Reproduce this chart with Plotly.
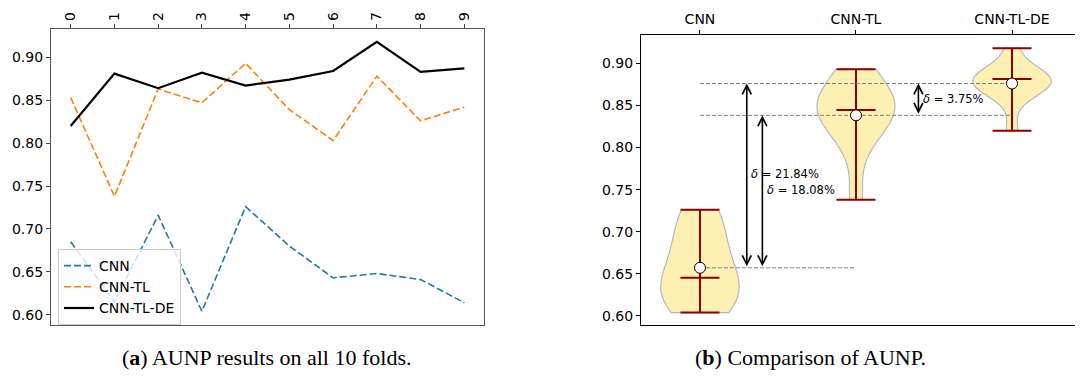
import numpy as np
import plotly.graph_objects as go

folds = list(range(10))
cnn = [0.685, 0.615, 0.716, 0.604, 0.726, 0.680, 0.643, 0.648, 0.641, 0.614]
cnn_tl = [0.853, 0.738, 0.863, 0.847, 0.893, 0.839, 0.803, 0.878, 0.826, 0.842]
cnn_tl_de = [0.820, 0.881, 0.864, 0.882, 0.867, 0.874, 0.884, 0.918, 0.883, 0.887]
models = ["CNN", "CNN-TL", "CNN-TL-DE"]
delta_labels = ["δ = 21.84%", "δ = 18.08%", "δ = 3.75%"]
y_ticks = [0.60, 0.65, 0.70, 0.75, 0.80, 0.85, 0.90]

# page has an 8px body margin; figure is sized to fill the rest of the window
OFF = 8
W, H = 1083 - OFF, 383 - OFF
def px_x(a, b):
    return [(a - OFF) / W, min(1.0, (b - OFF) / W)]
def px_y(top, bottom):
    return [(H - (bottom - OFF)) / H, (H - (top - OFF)) / H]
def pxx(a):
    return (a - OFF) / W
def pxy(a):
    return (H - (a - OFF)) / H

fig = go.Figure()

# ---- left panel: lines
line_styles = [
    (cnn, "CNN", "#1f77b4", "7px,3px", 1.6),
    (cnn_tl, "CNN-TL", "#ff7f0e", "7px,3px", 1.6),
    (cnn_tl_de, "CNN-TL-DE", "black", "solid", 2.2),
]
for vals, name, col, dash, w in line_styles:
    fig.add_trace(go.Scatter(x=folds, y=vals, mode="lines", name=name,
                             line=dict(color=col, dash=dash, width=w),
                             xaxis="x", yaxis="y"))

# ---- right panel: violins
data = [cnn, cnn_tl, cnn_tl_de]
pos = [1, 2, 3]
dark = "#8b0000"
for p, d, m in zip(pos, data, models):
    arr = np.array(d)
    bw = arr.std(ddof=1) * len(arr) ** (-0.2)
    fig.add_trace(go.Violin(x0=p, y=d, name=m, width=0.5, scalemode="width",
                            spanmode="hard", bandwidth=bw, points=False,
                            fillcolor="#fdf0b2",
                            line=dict(color="#b8b8b8", width=1.2),
                            box=dict(visible=False), meanline=dict(visible=False),
                            showlegend=False, hoverinfo="skip",
                            xaxis="x2", yaxis="y2"))

vx, vy, cx, cy = [], [], [], []
for p, d in zip(pos, data):
    arr = np.array(d)
    vx += [p, p, None]
    vy += [arr.min(), arr.max(), None]
    for v in (arr.min(), arr.max(), np.median(arr)):
        cx += [p - 0.125, p + 0.125, None]
        cy += [v, v, None]
fig.add_trace(go.Scatter(x=vx, y=vy, mode="lines", line=dict(color=dark, width=2),
                         showlegend=False, xaxis="x2", yaxis="y2"))
fig.add_trace(go.Scatter(x=cx, y=cy, mode="lines", line=dict(color=dark, width=2),
                         showlegend=False, xaxis="x2", yaxis="y2"))

means = [float(np.mean(d)) for d in data]
# dashed reference lines
rx = [1, 2, None, 1, 3, None, 1, 3, None]
ry = [means[0], means[0], None, means[1], means[1], None, means[2], means[2], None]
fig.add_trace(go.Scatter(x=rx, y=ry, mode="lines",
                         line=dict(color="#808080", dash="4px,2px", width=1),
                         showlegend=False, xaxis="x2", yaxis="y2"))

fig.add_trace(go.Scatter(x=pos, y=means, mode="markers",
                         marker=dict(color="white", size=11, line=dict(color="black", width=1)),
                         showlegend=False, xaxis="x2", yaxis="y2"))

# arrows
arrows = [(1.30, means[0], means[2]), (1.40, means[0], means[1]), (2.40, means[1], means[2])]
for ax_, y0, y1 in arrows:
    fig.add_annotation(x=ax_, y=y1, ax=ax_, ay=y0, xref="x2", yref="y2",
                       axref="x2", ayref="y2", text="", showarrow=True,
                       arrowhead=5, startarrowhead=5, arrowside="end+start",
                       arrowsize=1.1, startarrowsize=1.1, arrowwidth=1.6, arrowcolor="black",
                       standoff=0, startstandoff=0)
text_pos = [(1.315, 0.768), (1.415, 0.749), (2.415, 0.858)]
for (tx, ty), lab in zip(text_pos, delta_labels):
    fig.add_annotation(x=tx, y=ty, xref="x2", yref="y2", text=lab.replace("δ", "<i>δ</i>"),
                       showarrow=False, xanchor="left", yanchor="middle",
                       font=dict(family="DejaVu Sans", size=11.5, color="black"))

# captions
fig.add_annotation(x=pxx(266), y=pxy(357), xref="paper", yref="paper",
                   xanchor="center", yanchor="middle",
                   text="(<b>a</b>) AUNP results on all 10 folds.", showarrow=False,
                   font=dict(family="Liberation Serif", size=22, color="black"))
fig.add_annotation(x=pxx(810), y=pxy(357), xref="paper", yref="paper",
                   xanchor="center", yanchor="middle",
                   text="(<b>b</b>) Comparison of AUNP.", showarrow=False,
                   font=dict(family="Liberation Serif", size=22, color="black"))

tickfont = dict(family="DejaVu Sans", size=14, color="black")
fig.update_layout(
    width=W, height=H, margin=dict(l=0, r=0, t=0, b=0),
    paper_bgcolor="white", plot_bgcolor="white",
    font=dict(family="DejaVu Sans", size=14, color="black"),
    xaxis=dict(domain=px_x(51, 484), anchor="y", side="top", range=[-0.45, 9.45],
               tickvals=folds, ticktext=[str(f) for f in folds], tickangle=-90,
               ticks="outside", ticklen=4, tickcolor="#444", showgrid=False, zeroline=False,
               showline=True, linecolor="#555", linewidth=1.2, mirror=True, tickfont=tickfont,
               automargin=False),
    yaxis=dict(domain=px_y(29, 325), anchor="x", range=[0.588, 0.933],
               tickvals=y_ticks, tickformat=".2f", ticks="outside", ticklen=4,
               tickcolor="#444", showgrid=False, zeroline=False,
               showline=True, linecolor="#555", linewidth=1.2, mirror=True, tickfont=tickfont,
               automargin=False),
    xaxis2=dict(domain=px_x(641, 1083), anchor="y2", side="top", range=[0.622, 3.455],
                tickvals=pos, ticktext=models, ticks="outside", ticklen=4, tickcolor="black",
                showgrid=False, zeroline=False, showline=True, linecolor="black",
                linewidth=1.2, mirror=True, tickfont=tickfont, automargin=False),
    yaxis2=dict(domain=px_y(35, 325), anchor="x2", range=[0.5893, 0.9336],
                tickvals=y_ticks, tickformat=".2f", ticks="outside", ticklen=4,
                tickcolor="black", showgrid=False, zeroline=False, showline=True,
                linecolor="black", linewidth=1.2, mirror=False, tickfont=tickfont,
                automargin=False),
    legend=dict(x=pxx(58), y=pxy(249), xanchor="left", yanchor="top",
                bgcolor="rgba(255,255,255,0.8)", bordercolor="#cccccc", borderwidth=1,
                font=dict(family="DejaVu Sans", size=14, color="black"),
                tracegroupgap=0, itemwidth=30),
    violinmode="overlay",
    showlegend=True,
)

fig.write_html("out.html")
